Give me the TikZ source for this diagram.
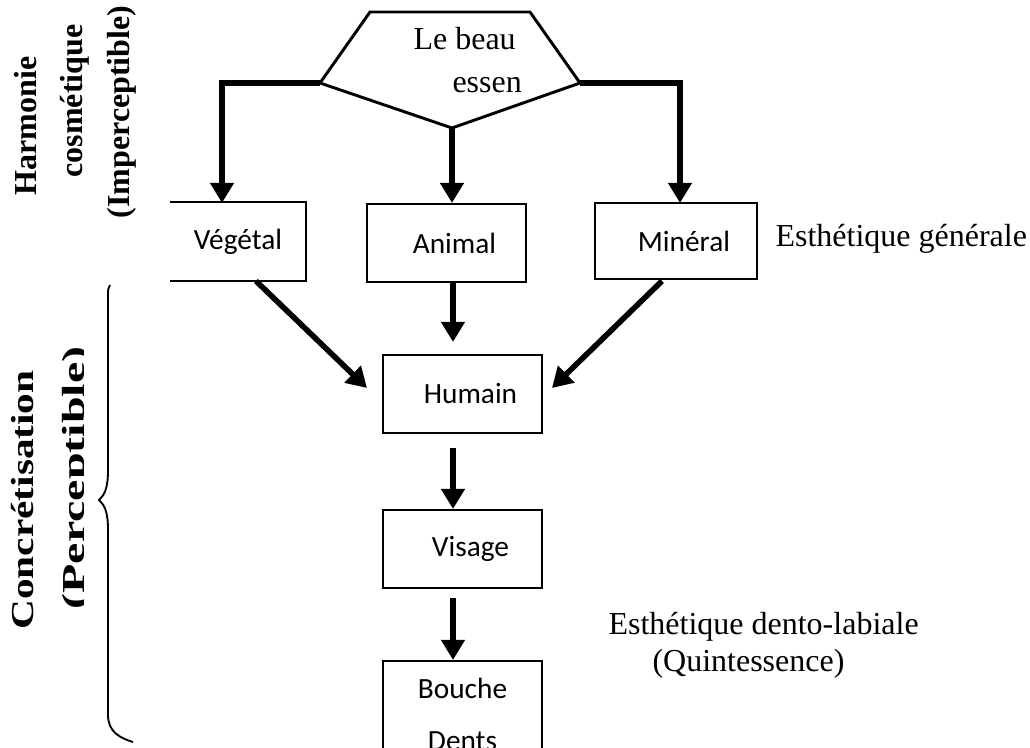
\documentclass[tikz,border=0pt]{standalone}
\usepackage{fontspec}
\setmainfont{Liberation Serif}
\newfontfamily\carl{Carlito}
\usetikzlibrary{arrows.meta}
\begin{document}
\begin{tikzpicture}[x=0.375pt,y=-0.375pt,
  box/.style={draw, line width=0.75pt, minimum width=59.6pt, minimum height=29.25pt, inner sep=0pt, font=\carl\fontsize{11}{13}\selectfont},
  big/.style={line width=2.1pt, -{Triangle[width=8.5pt,length=7.5pt]}},
  serif/.style={font=\fontsize{12}{14}\selectfont, inner sep=0pt, anchor=base west},
  side/.style={font=\bfseries\fontsize{12}{14}\selectfont, inner sep=0pt, rotate=90, anchor=base}]
\useasboundingbox (0,0) rectangle (1030,748);
\clip (0,0) rectangle (1030,748);
% top shape
\coordinate (hl) at (320,83);
\coordinate (hr) at (580,83);
\coordinate (hb) at (452,128);
\coordinate (htl) at (370,12);
\coordinate (htr) at (530,12);
\draw[line width=1.1pt, line join=miter] (htl) -- (htr) -- (hr) -- (hb) -- (hl) -- cycle;
\node[serif] (lb) at (413,50) {Le beau};
\node[serif] (es) at (452,93) {essen};
% boxes
\node[box, draw=none, minimum width=50.25pt, minimum height=28.9pt] (veg) at (238,241.5) {Végétal\hspace{3pt}};
\draw[line width=0.75pt] (veg.north west) -- (veg.north east) -- (veg.south east) -- (veg.south west);
\node[box] (ani) at (446.5,243) {\hspace{6pt}Animal};
\node[box, minimum width=60.75pt, minimum height=28.5pt] (min) at (676,241) {\hspace{6pt}Minéral};
\node[box] (hum) at (462.5,394) {\hspace{6pt}Humain};
\node[box] (vis) at (462.5,549) {\hspace{6pt}Visage};
\node[box, anchor=north, align=center, inner ysep=6.5pt, font=\carl\fontsize{11}{19.5}\selectfont] (bou) at (462.5,660) {Bouche\\Dents};
% arrows from top
\coordinate (vt) at (222,203);
\coordinate (mt) at (680,203);
\draw[big] (hl) -| (vt);
\draw[big] (hb) -- (hb |- ani.north);
\draw[big] (hr) -| (mt);
% arrows to Humain
\coordinate (v1) at (256,281);
\coordinate (h1) at (367,388);
\coordinate (m1) at (662,281);
\coordinate (h2) at (552,388);
\coordinate (a1) at (453,282);
\coordinate (a2) at (453,342);
\draw[big] (v1) -- (h1);
\draw[big] (a1) -- (a2);
\draw[big] (m1) -- (h2);
% lower arrows
\coordinate (hv1) at (453,448);
\coordinate (vb1) at (453,598);
\draw[big] (hv1) -- (hv1 |- vis.north);
\draw[big] (vb1) -- (vb1 |- bou.north);
% right texts
\node[serif] (eg) at (775,247) {Esthétique générale};
\node[serif] (edl) at (608,635) {Esthétique dento-labiale};
\node[serif] (qu) at (652,672) {(Quintessence)};
% left texts
\node[side] (t1) at (37,126) {Harmonie};
\node[side] (t2) at (82,101) {cosmétique};
\node[side] (t3) at (129,112) {(Imperceptible)};
\node[side] (t4) at (33,500) {\scalebox{1.29}[1]{Concrétisation}};
\begin{scope}
\clip (60,300) rectangle (83,680);
\node[side] (t5) at (85,478) {\scalebox{1.5}[1]{(Perceptible)}};
\end{scope}
% brace
\draw[line width=0.7pt] (110,285) .. controls (108,288) .. (108,300) -- (108,470)
  .. controls (108,490) and (104,495) .. (99,500)
  .. controls (104,505) and (108,510) .. (108,530) -- (108,715)
  .. controls (108,732) and (120,738) .. (133,742);
\end{tikzpicture}
\end{document}
